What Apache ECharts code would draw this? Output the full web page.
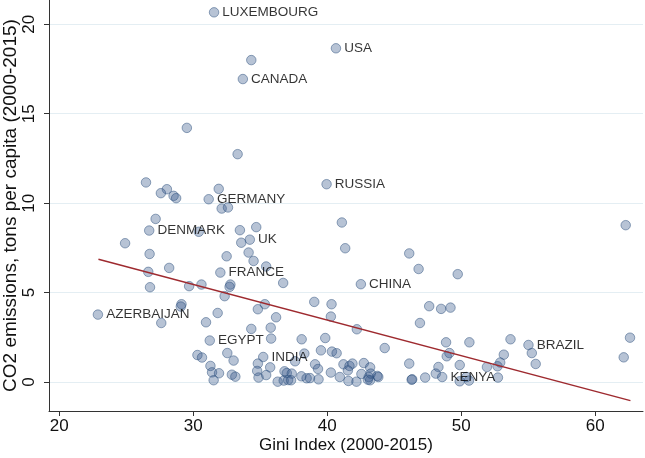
<!DOCTYPE html>
<html>
<head>
<meta charset="utf-8">
<script src="https://cdn.jsdelivr.net/npm/echarts@6/dist/echarts.min.js"></script>
<style>
html,body{margin:0;padding:0;background:#fff;}
#chart{width:645px;height:458px;}
</style>
</head>
<body>
<div id="chart"></div>
<script>
const gini = [31.55,34.33,33.70,40.65,29.52,33.31,39.95,26.47,28.03,27.58,28.53,28.72,31.90,31.15,32.12,32.59,41.09,62.28,27.19,26.71,30.41,33.48,34.70,24.91,33.58,34.22,26.74,32.49,34.13,34.50,35.44,28.20,26.64,32.02,36.71,26.77,29.69,30.61,32.77,32.71,32.34,29.12,29.07,35.34,34.82,39.03,31.82,22.88,27.61,30.95,36.18,35.78,34.33,31.23,35.81,38.09,32.54,38.29,30.31,30.65,33.01,35.22,37.60,31.28,34.82,35.74,39.09,31.40,31.92,32.88,33.14,34.77,34.87,35.44,36.81,36.98,37.35,31.52,36.30,36.75,37.08,37.30,38.07,38.46,38.71,39.35,41.34,46.12,46.82,49.74,42.51,40.32,40.27,47.61,48.50,49.20,46.92,42.21,39.85,39.53,40.35,40.70,44.29,48.87,50.61,53.68,55.02,55.27,62.60,62.13,49.12,48.92,53.18,55.56,52.91,52.71,51.92,49.89,48.30,46.12,41.21,41.66,41.88,41.54,42.73,43.20,40.27,40.94,41.58,42.18,42.55,43.10,43.20,43.03,43.25,43.74,43.81,46.34,46.30,47.31,48.10,48.58,49.89,50.58,50.39,52.74,39.31];
const co2 = [20.67,18.00,16.94,18.66,14.21,12.74,11.06,11.16,10.78,10.56,10.41,10.28,10.80,10.22,9.70,9.76,8.92,8.77,9.12,8.47,8.40,8.49,8.66,7.76,7.79,7.96,7.16,7.03,7.24,6.77,6.46,6.38,6.16,6.12,5.54,5.30,5.36,5.45,5.45,5.32,4.80,4.35,4.22,4.35,4.07,4.48,3.86,3.77,3.30,3.34,3.62,3.04,2.97,2.32,2.43,2.39,1.62,1.59,1.51,1.37,1.20,1.40,1.16,0.90,1.03,0.82,0.99,0.54,0.49,0.41,0.30,0.62,0.25,0.39,0.60,0.50,0.47,0.10,0.02,0.08,0.11,0.10,0.32,0.21,0.22,0.15,7.48,7.19,6.32,6.03,5.47,4.35,3.66,4.24,4.09,4.16,3.30,2.95,2.46,1.77,1.70,1.61,1.90,2.22,2.22,2.39,2.07,1.62,2.48,1.38,1.62,1.44,1.53,1.01,1.09,0.88,0.84,0.95,0.84,1.03,0.99,0.90,1.03,0.65,1.06,0.82,0.53,0.28,0.06,0.02,0.45,0.28,0.10,0.13,0.47,0.34,0.28,0.15,0.13,0.25,0.47,0.28,0.04,0.08,0.28,0.25,0.73];
const labelIndex = [0,2,3,6,13,19,25,33,90,47,53,61,106,141];
const labelText = ['LUXEMBOURG','CANADA','USA','RUSSIA','GERMANY','DENMARK','UK','FRANCE','CHINA','AZERBAIJAN','EGYPT','INDIA','BRAZIL','KENYA'];
const fitX = [22.92, 62.63];
const fitY = [6.87, -1.04];
const xTicks = [20,30,40,50,60];
const yTicks = [0,5,10,15,20];

const FONT = '"Liberation Sans", Arial, Helvetica, sans-serif';
const names = gini.map(() => '');
labelIndex.forEach((idx, k) => { names[idx] = labelText[k]; });

const pts = gini.map((g, i) => ({
  value: [g, co2[i]],
  name: names[i],
  label: { show: names[i] !== '' }
}));

const chart = echarts.init(document.getElementById('chart'), null, {renderer: 'canvas'});
chart.setOption({
  animation: false,
  backgroundColor: '#ffffff',
  grid: { left: 49, right: 2, top: 0, bottom: 47, containLabel: false, outerBoundsMode: 'none' },
  xAxis: {
    type: 'value',
    min: 19.23, max: 63.57,
    minInterval: 10, maxInterval: 10,
    name: 'Gini Index (2000-2015)',
    nameLocation: 'middle',
    nameGap: 26,
    nameMoveOverlap: false,
    nameTextStyle: { fontFamily: FONT, fontSize: 17, color: '#111' },
    axisLine: { show: true, onZero: false, lineStyle: { color: '#333', width: 1 } },
    axisTick: { show: true, length: 5, lineStyle: { color: '#333' }, customValues: xTicks },
    axisLabel: { fontFamily: FONT, fontSize: 17, color: '#111', margin: 7, customValues: xTicks },
    splitLine: { show: false }
  },
  yAxis: {
    type: 'value',
    min: -1.62, max: 21.36,
    minInterval: 5, maxInterval: 5,
    name: 'CO2 emissions, tons per capita (2000-2015)',
    nameLocation: 'middle',
    nameGap: 29,
    nameRotate: 90,
    nameMoveOverlap: false,
    nameTextStyle: { fontFamily: FONT, fontSize: 19, color: '#111' },
    axisLine: { show: true, onZero: false, lineStyle: { color: '#333', width: 1 } },
    axisTick: { show: true, length: 5, lineStyle: { color: '#333' }, customValues: yTicks },
    axisLabel: { fontFamily: FONT, fontSize: 17, color: '#111', rotate: 90, margin: 11, customValues: yTicks },
    splitLine: { show: true, lineStyle: { color: '#e4eef3', width: 1.2 } }
  },
  series: [
    {
      type: 'scatter',
      data: pts,
      symbolSize: 9.5,
      itemStyle: { color: 'rgba(55,90,138,0.45)', borderColor: 'rgba(40,75,122,0.6)', borderWidth: 1 },
      label: {
        position: 'right', distance: 3,
        formatter: p => p.name,
        fontFamily: FONT, fontSize: 13.5, color: '#000'
      },
      labelLayout: { hideOverlap: false },
      z: 2
    },
    {
      type: 'line',
      data: fitX.map((x, i) => [x, fitY[i]]),
      symbol: 'none',
      lineStyle: { color: '#9e2a2f', width: 1.5 },
      z: 3
    }
  ]
});
</script>
</body>
</html>
